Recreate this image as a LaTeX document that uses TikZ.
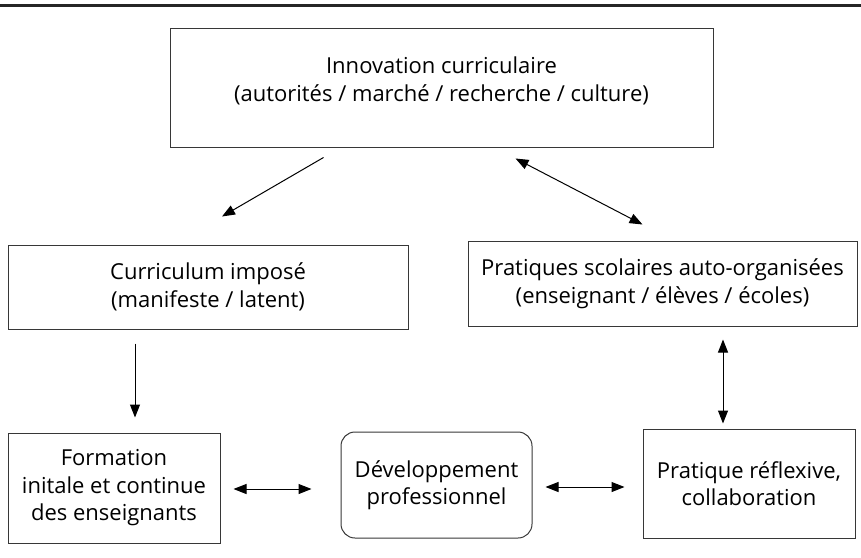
\documentclass[tikz,border=0pt]{standalone}
\usepackage{fontspec}
\setmainfont{Open Sans}
\usetikzlibrary{arrows.meta}
\definecolor{boxgray}{RGB}{55,55,55}

\begin{document}
\begin{tikzpicture}[x=1pt,y=-1pt,
  box/.style={draw=boxgray,line width=1pt,rectangle,align=center,inner sep=0pt,font=\fontsize{22}{27.5}\selectfont},
  arr/.style={-{Triangle[length=13pt,width=10pt]},line width=1pt},
  darr/.style={{Triangle[length=13pt,width=10pt]}-{Triangle[length=13pt,width=10pt]},line width=1pt}]
% Curriculum, practices and professional development
\useasboundingbox (0,0) rectangle (861,557);
\draw[line width=3pt,black!85] (0,5.5) -- (861,5.5);
\node[box,text depth=17pt,minimum width=543pt,minimum height=119pt] (innov) at (441.5,87.5) {Innovation curriculaire\\(autorités / marché / recherche / culture)};
\node[box,minimum width=400pt,minimum height=84pt] (curr) at (208,287) {Curriculum imposé\\(manifeste / latent)};
\node[box,minimum width=389pt,minimum height=85pt] (prat) at (662.5,283.5) {Pratiques scolaires auto-organisées\\(enseignant / élèves / écoles)};
\node[box,minimum width=212pt,minimum height=110pt] (form) at (114,488) {Formation\\initale et continue\\des enseignants};
\node[box,rounded corners=14pt,minimum width=191pt,minimum height=106pt] (dev) at (436.5,485) {Développement\\professionnel};
\node[box,minimum width=212pt,minimum height=109pt] (refl) at (749,483.5) {Pratique réflexive,\\collaboration};

\draw[arr] ([shift={(-118,10)}]innov.south) -- ([shift={(14,-28)}]curr.north);
\draw[darr] ([shift={(74,11)}]innov.south) -- ([shift={(-20,-16)}]prat.north);
\draw[arr] ([shift={(-73,14)}]curr.south) -- ([shift={(21,-15)}]form.north);
\draw[darr] ([shift={(60.5,13)}]prat.south) -- ([shift={(-26,-5)}]refl.north);
\draw[darr] ([shift={(13,1)}]form.east) -- ([shift={(-29,4)}]dev.west);
\draw[darr] ([shift={(13,2)}]dev.east) -- ([shift={(-18,3.5)}]refl.west);
\end{tikzpicture}
\end{document}
